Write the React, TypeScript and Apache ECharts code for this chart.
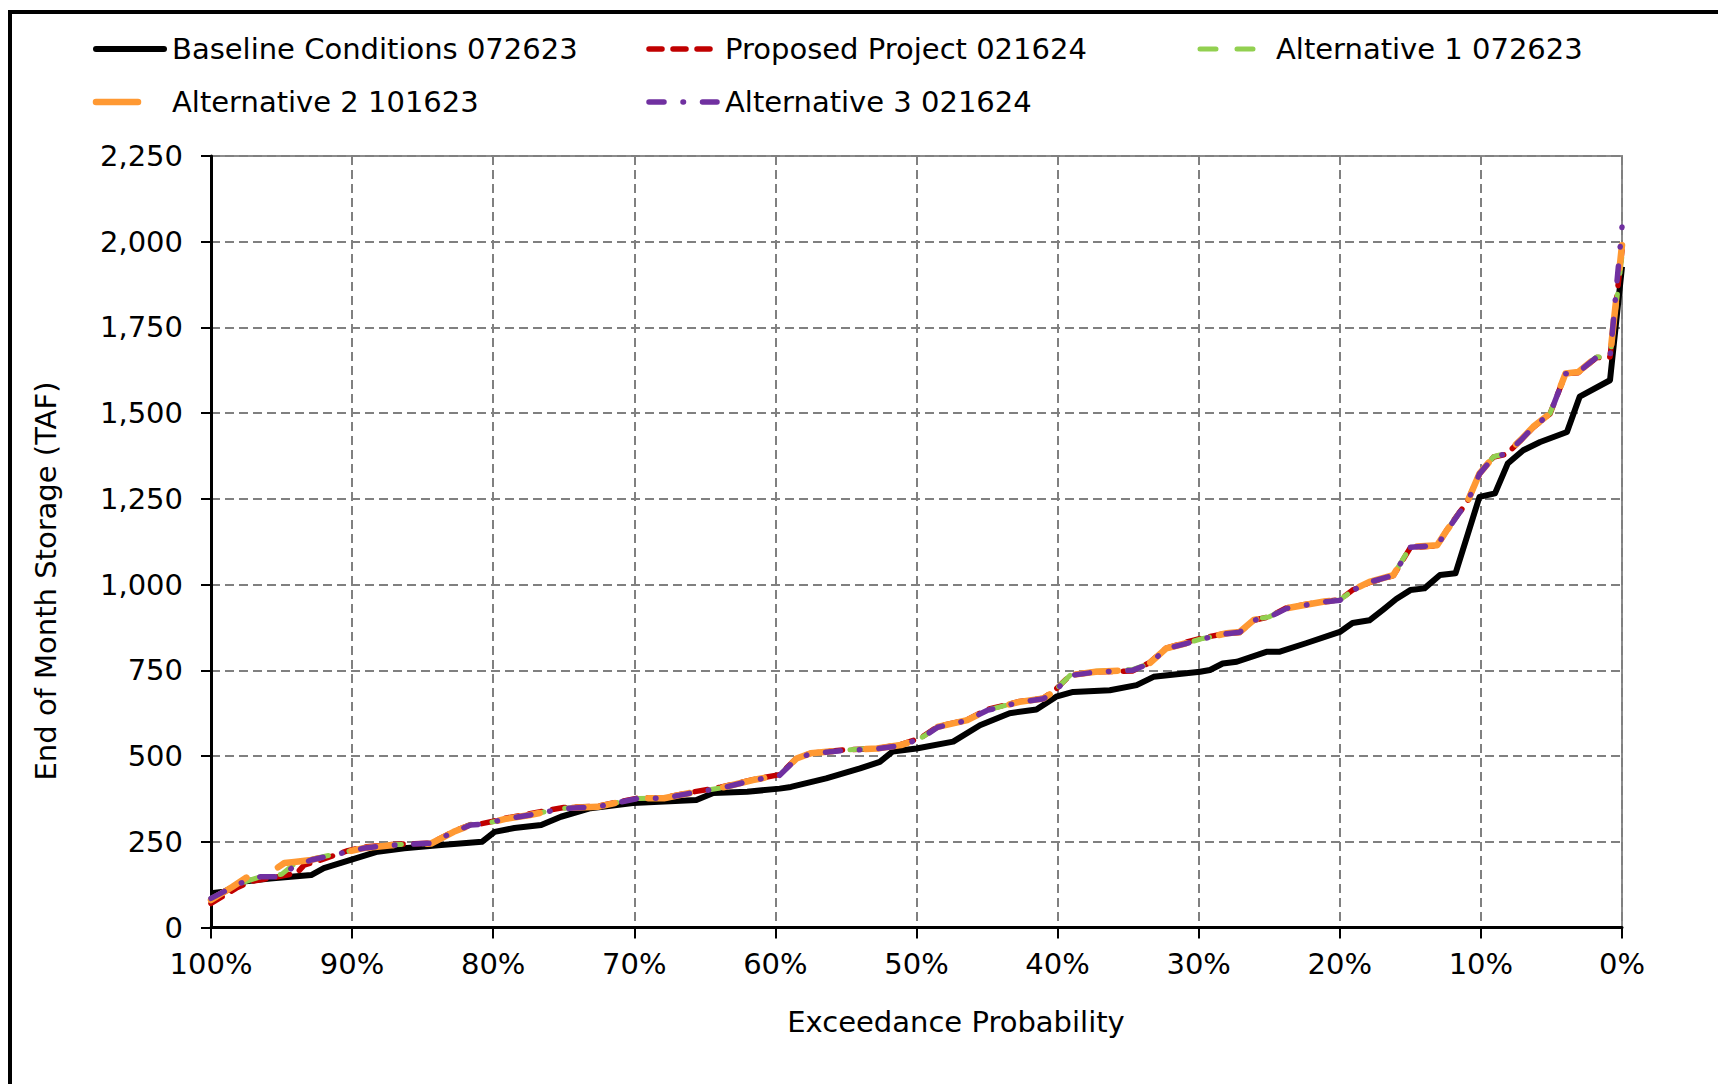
import React, { useEffect, useRef } from "react";
import * as echarts from "echarts";

const seriesNames = [
  "Baseline Conditions 072623",
  "Proposed Project 021624",
  "Alternative 1 072623",
  "Alternative 2 101623",
  "Alternative 3 021624",
];
const seriesColors = ["#000000", "#C00000", "#92D050", "#FF9933", "#7030A0"];

const xAxisTitle = "Exceedance Probability";
const yAxisTitle = "End of Month Storage (TAF)";

// [exceedance probability %, storage TAF]
const baseline: [number, number][] = [
  [100, 100], [99.1, 104], [97.7, 134], [95.8, 143], [92.9, 153], [92.0, 173], [90.1, 197],
  [88.2, 221], [86.3, 231], [83.9, 240], [80.8, 250], [79.9, 279], [78.5, 290], [76.6, 299],
  [75.2, 323], [73.1, 348], [70.1, 363], [65.6, 372], [64.4, 392], [62.0, 396], [59.7, 405],
  [58.9, 410], [56.4, 435], [54.0, 464], [52.6, 483], [51.7, 513], [50.0, 522], [47.4, 542],
  [45.5, 590], [43.4, 625], [41.5, 636], [40.1, 673], [38.9, 687], [36.3, 692], [34.4, 707],
  [33.2, 731], [29.9, 746], [29.2, 751], [28.3, 770], [27.3, 775], [25.2, 804], [24.3, 804],
  [22.4, 829], [20.0, 862], [19.1, 888], [17.9, 896], [16.9, 928], [16.0, 958], [15.0, 984],
  [14.0, 989], [12.9, 1028], [11.8, 1033], [10.1, 1256], [9.0, 1266], [8.1, 1353], [7.0, 1392],
  [5.8, 1416], [3.9, 1445], [3.0, 1548], [0.85, 1596], [0, 1927],
];

const proposed: [number, number][] = [
  [100, 70], [99.0, 95], [98.2, 115], [97.2, 134], [95.0, 150], [93.9, 159], [93.4, 182],
  [92.2, 197], [90.3, 224], [89.1, 235], [87.2, 242], [84.4, 246], [82.8, 280], [81.6, 300],
  [80.9, 302], [80.0, 310], [79.2, 318], [77.4, 332], [75.0, 350], [72.6, 354], [69.8, 377],
  [67.9, 379], [65.6, 397], [63.9, 409], [61.6, 431], [59.7, 446], [58.5, 494], [57.5, 508],
  [55.2, 518], [52.8, 522], [51.1, 534], [49.7, 553], [48.5, 586], [46.4, 606], [45.0, 636],
  [42.7, 659], [41.0, 669], [40.2, 692], [39.1, 736], [37.3, 746], [34.7, 748], [33.5, 772],
  [32.3, 815], [30.9, 832], [29.7, 845], [28.0, 858], [27.1, 860], [26.1, 896], [25.0, 906],
  [23.8, 932], [22.6, 941], [21.2, 950], [20.0, 956], [19.1, 984], [17.9, 1006], [16.2, 1026],
  [15.0, 1108], [13.1, 1113], [12.4, 1160], [11.5, 1212], [11.0, 1238], [10.1, 1324],
  [9.1, 1372], [8.2, 1380], [7.2, 1420], [6.3, 1458], [5.1, 1498], [4.0, 1615], [3.1, 1618],
  [1.8, 1662], [0.85, 1664], [0, 1975],
];

const alternative1: [number, number][] = [
  [100, 85], [98.0, 128], [96.5, 148], [95.0, 155], [94.1, 185], [92.9, 199], [90.3, 222],
  [89.1, 233], [87.2, 241], [84.4, 245], [82.8, 279], [81.6, 300], [80.9, 302], [80.0, 308],
  [79.2, 316], [77.4, 329], [75.0, 348], [72.6, 353], [69.8, 376], [67.9, 378], [65.6, 396],
  [63.9, 407], [61.6, 430], [59.7, 445], [58.5, 492], [57.5, 507], [55.2, 517], [52.8, 523],
  [51.1, 533], [49.7, 552], [48.5, 584], [46.4, 605], [45.0, 634], [42.7, 658], [41.0, 668],
  [40.2, 691], [39.1, 736], [37.3, 747], [34.7, 752], [33.5, 770], [32.3, 813], [30.9, 829],
  [29.7, 843], [28.0, 857], [27.1, 862], [26.1, 898], [25.0, 906], [23.8, 931], [22.6, 940],
  [21.2, 950], [20.0, 955], [19.1, 983], [17.9, 1008], [16.2, 1028], [15.0, 1110],
  [13.1, 1115], [12.4, 1159], [11.5, 1212], [11.0, 1237], [10.1, 1324], [9.1, 1373],
  [8.2, 1383], [7.2, 1421], [6.3, 1460], [5.1, 1499], [4.0, 1616], [3.1, 1620], [1.8, 1664],
  [0.85, 1664], [0, 1960],
];

const alternative2: [number, number][] = [
  [100, 80], [98.5, 118], [97.4, 148], [96.0, 155], [94.8, 188], [94.1, 191], [92.9, 197],
  [90.3, 221], [89.1, 232], [87.2, 240], [84.4, 245], [82.8, 279], [81.6, 299], [80.9, 301],
  [80.0, 308], [79.2, 316], [77.4, 328], [75.0, 348], [72.6, 352], [69.8, 377], [67.9, 377],
  [65.6, 396], [63.9, 407], [61.6, 430], [59.7, 445], [58.5, 493], [57.5, 508], [55.2, 517],
  [52.8, 522], [51.1, 532], [49.7, 552], [48.5, 585], [46.4, 605], [45.0, 634], [42.7, 658],
  [41.0, 668], [40.2, 690], [39.1, 736], [37.3, 746], [34.7, 751], [33.5, 770], [32.3, 814],
  [30.9, 829], [29.7, 843], [28.0, 858], [27.1, 862], [26.1, 897], [25.0, 906], [23.8, 931],
  [22.6, 940], [21.2, 950], [20.0, 955], [19.1, 984], [17.9, 1008], [16.2, 1028], [15.0, 1110],
  [13.1, 1115], [12.4, 1159], [11.5, 1212], [11.0, 1237], [10.1, 1324], [9.1, 1373],
  [8.2, 1383], [7.2, 1421], [6.3, 1460], [5.1, 1499], [4.0, 1616], [3.1, 1620], [1.8, 1664],
  [0.85, 1664], [0, 1990],
];

const alternative3: [number, number][] = [
  [100, 85], [98.0, 128], [96.5, 148], [95.0, 148], [94.2, 176], [92.9, 197], [90.3, 221],
  [89.1, 232], [87.2, 240], [84.4, 246], [82.8, 279], [81.6, 299], [80.9, 301], [80.0, 308],
  [79.2, 316], [77.4, 328], [75.0, 347], [72.6, 352], [69.8, 376], [67.9, 377], [65.6, 395],
  [63.9, 406], [61.6, 429], [59.7, 444], [58.5, 492], [57.5, 507], [55.2, 516], [52.8, 521],
  [51.1, 531], [49.7, 551], [48.5, 584], [46.4, 604], [45.0, 633], [42.7, 657], [41.0, 667],
  [40.2, 689], [39.1, 735], [37.3, 745], [34.7, 750], [33.5, 769], [32.3, 813], [30.9, 828],
  [29.7, 842], [28.0, 857], [27.1, 861], [26.1, 896], [25.0, 905], [23.8, 930], [22.6, 939],
  [21.2, 949], [20.0, 954], [19.1, 983], [17.9, 1007], [16.2, 1027], [15.0, 1109],
  [13.1, 1114], [12.4, 1158], [11.5, 1211], [11.0, 1236], [10.1, 1323], [9.1, 1372],
  [8.2, 1382], [7.2, 1420], [6.3, 1459], [5.1, 1498], [4.0, 1615], [3.1, 1619], [1.8, 1663],
  [0.85, 1663], [0, 2043],
];

const seriesData = [baseline, proposed, alternative1, alternative2, alternative3];

const lineWidths = [6, 5.5, 5, 6.5, 5.5];
const dashPatterns: (number[] | "solid")[] = [
  "solid",
  [13, 11],
  [16, 21],
  [42, 34],
  [15, 19, 0.5, 19],
];

const FONT = "'DejaVu Sans', Verdana, sans-serif";

export default function App() {
  const ref = useRef<HTMLDivElement>(null);

  useEffect(() => {
    if (!ref.current) return;
    const chart = echarts.init(ref.current, undefined, { renderer: "svg" });

    const legendPos = [
      { x: 93, y: 49 },
      { x: 646, y: 49 },
      { x: 1197, y: 49 },
      { x: 93, y: 102 },
      { x: 646, y: 102 },
    ];
    const iconW = 74;

    const legendGraphics: any[] = [];
    seriesNames.forEach((name, i) => {
      const p = legendPos[i];
      const dash = dashPatterns[i];
      legendGraphics.push({
        type: "line",
        shape: { x1: p.x + 3, y1: p.y, x2: p.x + iconW - 3, y2: p.y },
        style: {
          stroke: seriesColors[i],
          lineWidth: lineWidths[i],
          lineDash: dash === "solid" ? null : dash,
          lineCap: "round",
        },
        silent: true,
      });
      legendGraphics.push({
        type: "text",
        x: p.x + iconW + 5,
        y: p.y,
        style: {
          text: name,
          fill: "#000",
          font: `29px ${FONT}`,
          align: "left",
          verticalAlign: "middle",
        },
        silent: true,
      });
    });

    chart.setOption({
      animation: false,
      backgroundColor: "#ffffff",
      textStyle: { fontFamily: FONT },
      grid: {
        left: 211,
        top: 156,
        width: 1411,
        height: 771.5,
        show: true,
        borderColor: "#8c8c8c",
        borderWidth: 2,
        containLabel: false,
      },
      xAxis: {
        type: "value",
        min: 0,
        max: 100,
        interval: 10,
        inverse: true,
        axisLine: { show: true, onZero: false, lineStyle: { color: "#000", width: 3 } },
        axisTick: { show: true, length: 11, lineStyle: { color: "#000", width: 2 } },
        axisLabel: {
          margin: 22,
          fontSize: 29,
          color: "#000",
          fontFamily: FONT,
          formatter: (v: number) => `${v}%`,
        },
        splitLine: {
          show: true,
          lineStyle: { color: "#808080", width: 2, type: [9, 5] },
        },
      },
      yAxis: {
        type: "value",
        min: 0,
        max: 2250,
        interval: 250,
        axisLine: { show: true, onZero: false, lineStyle: { color: "#000", width: 3 } },
        axisTick: { show: true, length: 10, lineStyle: { color: "#000", width: 2 } },
        axisLabel: {
          margin: 28,
          fontSize: 29,
          color: "#000",
          fontFamily: FONT,
          formatter: (v: number) => v.toLocaleString("en-US"),
        },
        splitLine: {
          show: true,
          lineStyle: { color: "#808080", width: 2, type: [9, 5] },
        },
      },
      series: seriesNames.map((name, i) => ({
        name,
        type: "line",
        data: seriesData[i],
        symbol: "none",
        showSymbol: false,
        clip: true,
        z: 3 + i,
        lineStyle: {
          color: seriesColors[i],
          width: lineWidths[i],
          type: dashPatterns[i],
          cap: i === 0 ? "butt" : "round",
          join: "round",
        },
      })),
      graphic: [
        {
          type: "rect",
          shape: { x: 10, y: 12, width: 1900, height: 1300 },
          style: { fill: "none", stroke: "#000", lineWidth: 4 },
          silent: true,
          z: 100,
        },
        {
          type: "text",
          x: 46,
          y: 581,
          rotation: Math.PI / 2,
          style: {
            text: yAxisTitle,
            fill: "#000",
            font: `29px ${FONT}`,
            align: "center",
            verticalAlign: "middle",
          },
          silent: true,
        },
        {
          type: "text",
          x: 956,
          y: 1022,
          style: {
            text: xAxisTitle,
            fill: "#000",
            font: `29px ${FONT}`,
            align: "center",
            verticalAlign: "middle",
          },
          silent: true,
        },
        ...legendGraphics,
      ],
    });

    return () => chart.dispose();
  }, []);

  return (
    <div
      ref={ref}
      style={{ position: "fixed", left: 0, top: 0, width: 1718, height: 1084, background: "#fff" }}
    />
  );
}
